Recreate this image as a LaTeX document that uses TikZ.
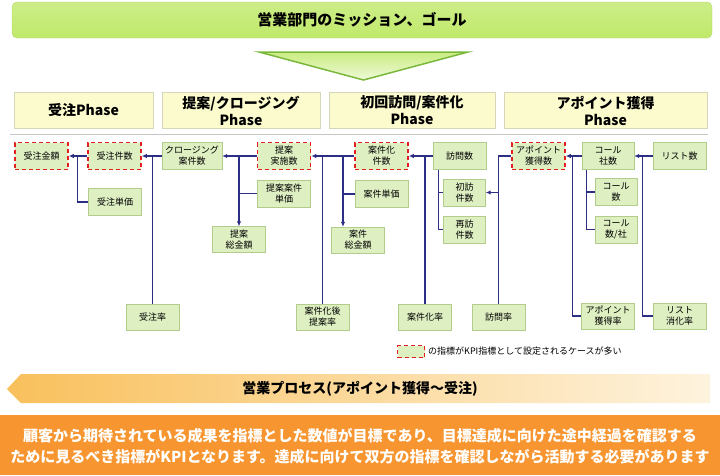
\documentclass[tikz,border=0pt]{standalone}
\usepackage{fontspec}
\setmainfont{Noto Sans CJK JP}
\usepackage{tikz}
\usetikzlibrary{arrows.meta}
\definecolor{bannergreen}{RGB}{192, 233, 106}
\definecolor{bannerline}{RGB}{178, 218, 104}
\definecolor{triline}{RGB}{122, 184, 60}
\definecolor{phaseyellow}{RGB}{251, 251, 206}
\definecolor{phaseline}{RGB}{214, 214, 186}
\definecolor{boxgreen}{RGB}{222, 239, 194}
\definecolor{boxline}{RGB}{178, 204, 140}
\definecolor{kpired}{RGB}{226, 32, 32}
\definecolor{navy}{RGB}{44, 46, 132}
\definecolor{procorange}{RGB}{249, 192, 92}
\definecolor{procpale}{RGB}{254, 243, 222}
\definecolor{noteorange}{RGB}{247, 150, 48}

\begin{document}
\begin{tikzpicture}[x=1pt, y=-1pt,
    box/.style={draw=boxline, fill=boxgreen, minimum width=53pt, minimum height=27pt,
        inner sep=0pt, align=center, font=\fontsize{9}{11}\selectfont},
    narrowbox/.style={box, minimum width=42pt},
    kpi/.style={box, draw=kpired, dash pattern=on 4pt off 3pt, line width=1.6pt},
    phasebox/.style={draw=phaseline, fill=phaseyellow, minimum height=36pt, inner sep=0pt,
        align=center, font=\fontsize{14}{17}\selectfont\bfseries},
    link/.style={draw=navy, line width=1.1pt},
    conn/.style={link, -{Latex[length=5pt, width=4.5pt]}}]
    \useasboundingbox (0,0) rectangle (720,475);

    % Mission banner and triangle
    \shade[top color=bannergreen!80!white, bottom color=bannergreen, draw=bannerline, rounded corners=5pt]
        (12,2) rectangle (712,38);
    \node[font=\fontsize{15}{18}\selectfont\bfseries] (mission) at (362,20) {営業部門のミッション、ゴール};
    \shade[top color=bannergreen!85!white, bottom color=bannergreen!25!white, draw=triline, line width=1.5pt]
        (259,52) -- (468,52) -- (363.5,80) -- cycle;

    % Phases
    \node[phasebox, minimum width=139pt] (phjuchu) at (83.5,110.5) {受注Phase};
    \node[phasebox, minimum width=158pt] (phteian) at (241,110.5) {提案/クロージング\\Phase};
    \node[phasebox, minimum width=166pt] (phhoumon) at (412,110.5) {初回訪問/案件化\\Phase};
    \node[phasebox, minimum width=203pt] (phapo) at (605.5,110.5) {アポイント獲得\\Phase};
    \draw[gray!45, line width=1pt] (10,134) -- (708,134);

    % Row 1
    \node[kpi] (juchukingaku) at (41.5,156) {受注金額};
    \node[kpi] (juchukensu) at (114.5,156) {受注件数};
    \node[box, minimum width=60pt] (closing) at (192,156) {クロージング\\案件数};
    \node[kpi] (teianjisshi) at (284,156) {提案\\実施数};
    \node[kpi] (ankenka) at (381.5,156) {案件化\\件数};
    \node[box] (houmon) at (459.5,156) {訪問数};
    \node[kpi] (apo) at (538.5,156) {アポイント\\獲得数};
    \node[box, minimum width=52pt] (call) at (608,156) {コール\\社数};
    \node[box] (list) at (679.5,156) {リスト数};

    % Row 2 and 3
    \node[box] (juchutanka) at (115,202) {受注単価};
    \node[box] (teiantanka) at (284,193.5) {提案案件\\単価};
    \node[box] (ankentanka) at (381.5,194) {案件単価};
    \node[narrowbox] (shohou) at (464.5,192.5) {初訪\\件数};
    \node[narrowbox] (saihou) at (464.5,229.5) {再訪\\件数};
    \node[narrowbox] (callsu) at (616,192) {コール\\数};
    \node[narrowbox] (callsha) at (616,229.5) {コール\\数/社};
    \node[box, minimum height=26pt] (teiansougaku) at (239,239.5) {提案\\総金額};
    \node[box, minimum height=26pt] (ankensougaku) at (358,240) {案件\\総金額};

    % Rates
    \node[box, minimum height=26pt] (juchuritsu) at (152.5,317) {受注率};
    \node[box, minimum height=26pt] (teianritsu) at (322.5,317) {案件化後\\提案率};
    \node[box, minimum height=26pt] (ankenkaritsu) at (425,317) {案件化率};
    \node[box, minimum height=26pt] (houmonritsu) at (498.5,317) {訪問率};
    \node[box, minimum height=26pt] (aporitsu) at (608,316) {アポイント\\獲得率};
    \node[box, minimum height=26pt] (listritsu) at (679.5,316) {リスト\\消化率};

    % Connectors
    \draw[conn] (juchukensu.west) -- (juchukingaku.east);
    \draw[link] (juchutanka.west) -| ([xshift=-10pt]juchukensu.west);
    \draw[conn] (closing.west) -- (juchukensu.east);
    \draw[link] (juchuritsu.north) -- (juchuritsu.north |- closing.west);

    \draw[conn] (teianjisshi.west) -- (closing.east);
    \draw[conn] (teiansougaku.north |- teianjisshi.west) -- (teiansougaku.north);
    \draw[link] (teiantanka.west) -- (teiansougaku.north |- teiantanka.west);

    \draw[conn] (ankenka.west) -- (teianjisshi.east);
    \draw[link] (teianritsu.north) -- (teianritsu.north |- ankenka.west);
    \coordinate (ankenjoin) at (343,156);
    \draw[conn] (ankenjoin) -- (ankenjoin |- ankensougaku.north);
    \draw[link] (ankentanka.west) -- (ankenjoin |- ankentanka.west);

    \draw[conn] (houmon.west) -- (ankenka.east);
    \draw[link] (ankenkaritsu.north) -- (ankenkaritsu.north |- houmon.west);
    \coordinate (houmonjoin) at ([xshift=6pt]houmon.south west);
    \draw[link] (houmonjoin) |- (saihou.west);
    \draw[link] (houmonjoin |- shohou.west) -- (shohou.west);

    \draw[link] (apo.west) -| (houmonritsu.north);
    \draw[conn] (houmonritsu.north |- shohou.east) -- (shohou.east);
    \draw[conn] (call.west) -- (apo.east);
    \coordinate (calljoin) at ([xshift=-9pt]call.west);
    \draw[link] (calljoin) |- (aporitsu.west);
    \coordinate (callsub) at ([xshift=5pt]call.south west);
    \draw[link] (callsub) |- (callsha.west);
    \draw[link] (callsub |- callsu.west) -- (callsu.west);
    \draw[conn] (list.west) -- (call.east);
    \coordinate (listjoin) at ([xshift=-10pt]list.west);
    \draw[link] (listjoin) |- (listritsu.west);

    % Legend
    \node[kpi, minimum width=27pt, minimum height=12pt] (legendbox) at (411,351.5) {};
    \node[anchor=west, inner sep=0pt, font=\fontsize{9}{11}\selectfont] (legendtext)
        at (428,351.5) {の指標がKPI指標として設定されるケースが多い};

    % Sales process arrow
    \shade[left color=procorange, right color=procpale]
        (7,389) -- (21,374) -- (710,374) -- (710,403) -- (21,403) -- cycle;
    \node[font=\fontsize{14}{17}\selectfont\bfseries] (process) at (360,389) {営業プロセス(アポイント獲得〜受注)};

    % Note
    \fill[noteorange] (0,415) rectangle (720,475);
    \node[text=white, align=center, font=\fontsize{15}{21}\selectfont\bfseries] (note) at (360,446)
        {顧客から期待されている成果を指標とした数値が目標であり、目標達成に向けた途中経過を確認する\\
         ために見るべき指標がKPIとなります。達成に向けて双方の指標を確認しながら活動する必要があります};
\end{tikzpicture}
\end{document}
